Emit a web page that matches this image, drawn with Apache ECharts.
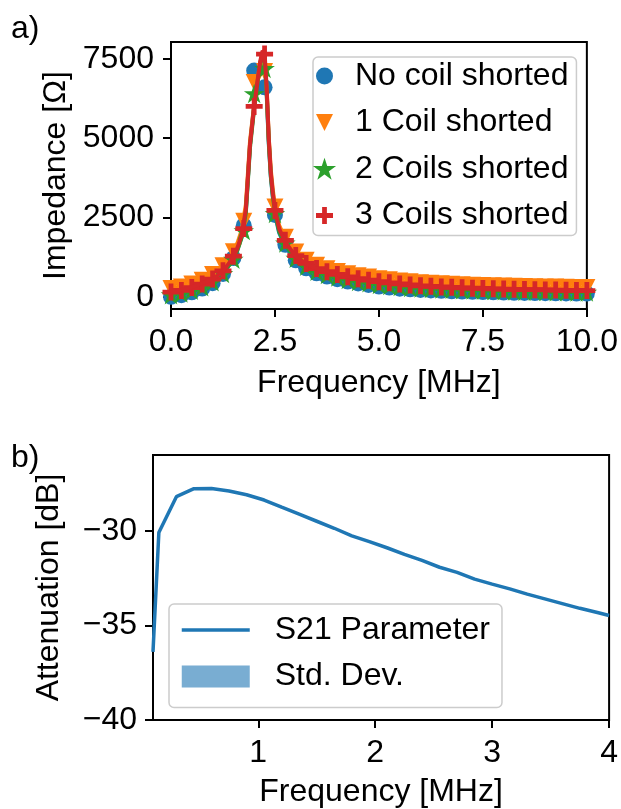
<!DOCTYPE html>
<html><head><meta charset="utf-8">
<script src="https://cdn.jsdelivr.net/npm/echarts@6/dist/echarts.min.js"></script>
<style>html,body{margin:0;padding:0;background:#fff}#c{width:621px;height:809px}</style>
</head><body><div id="c"></div>
<script>
// ---------- Panel a) impedance data ----------
const freq = [0,0.25,0.5,0.75,1,1.25,1.5,1.75,2,2.25,2.5,2.75,3,3.25,3.5,3.75,4,4.25,4.5,4.75,5,5.25,5.5,5.75,6,6.25,6.5,6.75,7,7.25,7.5,7.75,8,8.25,8.5,8.75,9,9.25,9.5,9.75,10];
const noCoil   = [0,50,140,260,430,720,1220,2250,7130,6600,2580,1640,1150,900,740,640,555,480,420,375,325,290,255,235,215,200,187,175,165,156,148,141,134,128,123,118,114,110,106,103,100];
const oneCoil  = [260,310,400,520,700,980,1420,2380,6750,7100,2830,1880,1410,1150,990,885,800,725,665,620,570,535,500,470,440,425,407,392,378,367,357,348,339,331,324,317,311,305,300,295,290];
const twoCoils = [60,110,200,310,470,730,1180,2080,6400,7190,2620,1690,1210,960,800,700,615,540,480,435,385,350,315,290,270,256,243,231,220,210,201,193,186,179,172,166,161,156,151,147,143];
const threeCoils = [150,200,290,400,560,820,1280,2150,6000,7650,2720,1780,1300,1050,890,790,705,630,570,525,475,440,405,375,345,330,312,297,283,272,262,253,244,236,229,222,216,210,205,200,195];

// fitted curves
const fitFreq = [0,0.5,1.0,1.25,1.5,1.6,1.7,1.8,1.9,2.0,2.1,2.15,2.2,2.25,2.3,2.35,2.4,2.45,2.5,2.6,2.75,3.0,3.25,3.5,4.0,4.5,5.0,5.5,6.0,7.0,8.0,9.0,10.0];
const fitNoCoil   = [0,140,440,720,1200,1500,1900,2700,4800,6050,7000,7380,7600,7450,6400,4850,3780,3120,2600,2020,1580,1140,900,740,555,420,325,255,215,165,134,114,100];
const fitOneCoil  = [240,400,680,960,1400,1700,2100,2900,4900,6050,7000,7400,7650,7550,6550,5050,4000,3350,2850,2250,1820,1370,1140,985,795,665,572,500,440,378,339,311,290];
const fitTwoCoils = [60,200,480,740,1180,1480,1870,2650,4700,5950,6950,7380,7650,7550,6500,4920,3820,3170,2660,2060,1630,1190,960,800,610,480,385,315,270,220,186,161,143];
const fitThreeCoils = [130,300,560,800,1250,1550,1950,2750,4800,6000,7000,7450,7750,7700,6600,5000,3900,3250,2750,2150,1720,1270,1040,885,695,565,472,400,340,278,238,212,192];

const seriesNamesA = ['No coil shorted','1 Coil shorted','2 Coils shorted','3 Coils shorted'];
const xTicksA = [0,2.5,5,7.5,10];
const yTicksA = [0,2500,5000,7500];

// ---------- Panel b) S21 data ----------
const s21Freq = [0.1,0.15,0.3,0.45,0.6,0.75,0.9,1.05,1.2,1.35,1.5,1.65,1.8,1.95,2.1,2.25,2.4,2.55,2.7,2.85,3.0,3.15,3.3,3.45,3.6,3.75,3.9,4.0];
const s21 = [-36.4,-30.1,-28.2,-27.78,-27.77,-27.9,-28.1,-28.38,-28.76,-29.13,-29.5,-29.87,-30.27,-30.58,-30.9,-31.25,-31.57,-31.93,-32.2,-32.56,-32.82,-33.07,-33.35,-33.6,-33.85,-34.1,-34.32,-34.48];
const s21Std = [0.1,0.08,0.05,0.05,0.04,0.04,0.04,0.05,0.05,0.05,0.05,0.05,0.05,0.05,0.05,0.06,0.06,0.06,0.06,0.06,0.06,0.06,0.07,0.07,0.07,0.07,0.07,0.07];
const xTicksB = [1,2,3,4];
const yTicksB = [-40,-35,-30];

// ---------- styling ----------
const FONT = 'Liberation Sans';
const FS = 32;
const C = ['#1f77b4','#ff7f0e','#2ca02c','#d62728'];
const SYM = [
  'circle',
  'path://M0,0L2,0L1,2Z',
  'path://M1,0L1.2245,0.691L1.951,0.691L1.3633,1.118L1.5878,1.809L1,1.382L0.4122,1.809L0.6367,1.118L0.049,0.691L0.7755,0.691Z',
  'path://M3.6,0H6.4V3.6H10V6.4H6.4V10H3.6V6.4H0V3.6H3.6Z'
];
const SYMSIZE = [16,17,16,17];
const BORDER = [0,0,1.5,0];
const LEGBORDER = [0,0,2,0];
const minus = v => String(v).replace('-', '\u2212');
const zip = (a,b) => a.map((x,i)=>[x,b[i]]);

function axisBase(extra){
  return Object.assign({
    type:'value',
    axisLine:{show:true,onZero:false,lineStyle:{color:'#000',width:2}},
    splitLine:{show:false},
    nameLocation:'middle',
    nameTextStyle:{fontSize:FS,fontFamily:FONT,color:'#000'}
  }, extra);
}
const tick = vals => ({show:true,length:8,lineStyle:{color:'#000',width:2},customValues:vals});
const label = (vals, margin, fmt) => ({fontSize:FS,fontFamily:FONT,color:'#000',margin:margin,customValues:vals,formatter:fmt});

const impData = [noCoil, oneCoil, twoCoils, threeCoils];
const fitData = [fitNoCoil, fitOneCoil, fitTwoCoils, fitThreeCoils];
const series = [];
for (let i=0;i<4;i++){
  series.push({
    type:'scatter', name:seriesNamesA[i], xAxisIndex:0, yAxisIndex:0,
    data: zip(freq, impData[i]), symbol:SYM[i], symbolSize:SYMSIZE[i], symbolKeepAspect:true,
    itemStyle:{color:C[i], opacity:1, borderColor:C[i], borderWidth:BORDER[i], borderJoin:'miter'}, z:2+i*2
  });
  series.push({
    type:'line', name:'fit'+i, xAxisIndex:0, yAxisIndex:0,
    data: zip(fitFreq, fitData[i]), symbol:'none', showSymbol:false,
    lineStyle:{color:C[i], width:4}, z:3+i*2
  });
}
series.push({
  type:'line', name:'sdLow', xAxisIndex:1, yAxisIndex:1, stack:'sd', stackStrategy:'all',
  data: s21Freq.map((x,i)=>[x, s21[i]-s21Std[i]]), symbol:'none', lineStyle:{opacity:0}
});
series.push({
  type:'line', name:'Std. Dev.', xAxisIndex:1, yAxisIndex:1, stack:'sd', stackStrategy:'all',
  data: s21Freq.map((x,i)=>[x, 2*s21Std[i]]), symbol:'none', lineStyle:{opacity:0},
  itemStyle:{color:'rgba(31,119,180,0.6)'}, areaStyle:{color:'rgba(31,119,180,0.6)'}
});
series.push({
  type:'line', name:'S21 Parameter', xAxisIndex:1, yAxisIndex:1,
  data: zip(s21Freq, s21), symbol:'none', showSymbol:false,
  itemStyle:{color:'#1f77b4'}, lineStyle:{color:'#1f77b4', width:3.5}, z:5
});

const legendText = (pad) => ({fontSize:FS,fontFamily:FONT,color:'#000',lineHeight:31,padding:[0,0,0,pad]});

const option = {
  animation:false,
  backgroundColor:'#fff',
  grid:[
    {left:171, top:42, width:416, height:267, show:true, borderColor:'#000', borderWidth:2, backgroundColor:'transparent'},
    {left:153, top:455, width:458, height:267, show:true, borderColor:'#000', borderWidth:2, backgroundColor:'transparent'}
  ],
  xAxis:[
    axisBase({gridIndex:0, min:0, max:10, name:'Frequency [MHz]', nameGap:58,
      axisTick:tick(xTicksA), axisLabel:label(xTicksA, 17, v=>Number(v).toFixed(1))}),
    axisBase({gridIndex:1, min:0.1, max:4, name:'Frequency [MHz]', nameGap:56,
      axisTick:tick(xTicksB), axisLabel:label(xTicksB, 17, v=>String(Math.round(v)))})
  ],
  yAxis:[
    axisBase({gridIndex:0, min:-385, max:8030, name:'Impedance [\u03A9]', nameGap:97, nameRotate:90,
      axisTick:tick(yTicksA), axisLabel:label(yTicksA, 17, v=>String(Math.round(v)))}),
    axisBase({gridIndex:1, min:-40, max:-26, name:'Attenuation [dB]', nameGap:88, nameRotate:90,
      axisTick:tick(yTicksB), axisLabel:label(yTicksB, 16, v=>minus(Math.round(v)))})
  ],
  legend:[
    {
      orient:'vertical', left:313, top:57, selectedMode:false,
      padding:[3,8,4,2], itemGap:14.5, itemWidth:17, itemHeight:17,
      backgroundColor:'rgba(255,255,255,0.8)', borderColor:'#cccccc', borderWidth:1.5, borderRadius:5,
      textStyle:legendText(17),
      data: seriesNamesA.map((n,i)=>({name:n, icon:SYM[i], itemStyle:{color:C[i], borderColor:C[i], borderWidth:LEGBORDER[i]}}))
    },
    {
      orient:'vertical', left:169, top:604, selectedMode:false,
      padding:[10,12,15,11], itemGap:14.5, itemWidth:68, itemHeight:22,
      backgroundColor:'rgba(255,255,255,0.8)', borderColor:'#cccccc', borderWidth:1.5, borderRadius:5,
      textStyle:legendText(20),
      data:[
        {name:'S21 Parameter', itemStyle:{opacity:0, color:'rgba(0,0,0,0)', borderWidth:0}, lineStyle:{color:'#1f77b4', width:3.5, opacity:1}},
        {name:'Std. Dev.', icon:'rect', itemStyle:{color:'rgba(31,119,180,0.6)', borderWidth:0}}
      ]
    }
  ],
  graphic:[
    {type:'text', x:11, y:29, style:{text:'a)', fontSize:FS, fontFamily:FONT, fill:'#000', verticalAlign:'middle'}},
    {type:'text', x:11, y:458, style:{text:'b)', fontSize:FS, fontFamily:FONT, fill:'#000', verticalAlign:'middle'}}
  ],
  series: series
};
const chart = echarts.init(document.getElementById('c'), null, {renderer:'canvas'});
chart.setOption(option);
</script>
</body></html>
